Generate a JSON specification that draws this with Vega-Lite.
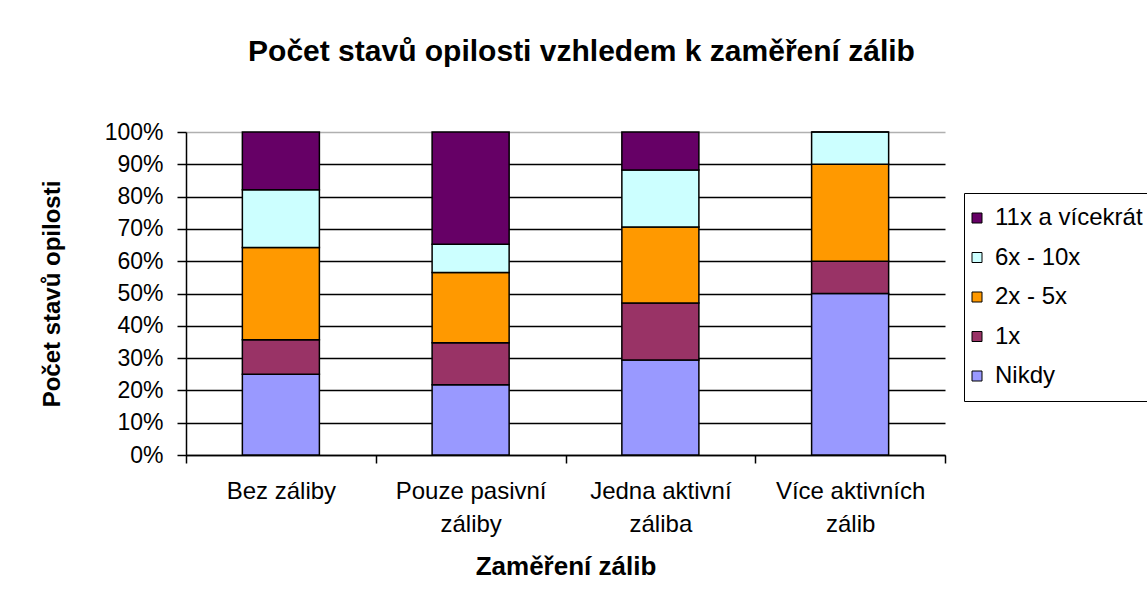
{
  "$schema": "https://vega.github.io/schema/vega-lite/v6.json",
  "width": 759,
  "height": 323,
  "autosize": {"type": "none"},
  "padding": {"left": 186, "top": 132, "right": 202, "bottom": 148},
  "background": "white",
  "config": {
    "font": "Liberation Sans",
    "view": {"stroke": null},
    "axis": {"labelColor": "black", "titleColor": "black", "domainColor": "black", "tickColor": "black"}
  },
  "title": {
    "text": "Počet stavů opilosti vzhledem k zaměření zálib",
    "fontSize": 30,
    "fontWeight": "bold",
    "font": "Liberation Sans",
    "color": "black",
    "anchor": "middle",
    "baseline": "alphabetic",
    "offset": 30,
    "dx": 16
  },
  "data": {
    "values": [
      {"zamereni": "Bez záliby", "cetnost": "Nikdy", "poradi": 1, "podil": 0.25},
      {"zamereni": "Bez záliby", "cetnost": "1x", "poradi": 2, "podil": 0.1071},
      {"zamereni": "Bez záliby", "cetnost": "2x  -  5x", "poradi": 3, "podil": 0.2857},
      {"zamereni": "Bez záliby", "cetnost": "6x  -  10x", "poradi": 4, "podil": 0.1786},
      {"zamereni": "Bez záliby", "cetnost": "11x a vícekrát", "poradi": 5, "podil": 0.1786},
      {"zamereni": "Pouze pasivní záliby", "cetnost": "Nikdy", "poradi": 1, "podil": 0.2174},
      {"zamereni": "Pouze pasivní záliby", "cetnost": "1x", "poradi": 2, "podil": 0.1304},
      {"zamereni": "Pouze pasivní záliby", "cetnost": "2x  -  5x", "poradi": 3, "podil": 0.2174},
      {"zamereni": "Pouze pasivní záliby", "cetnost": "6x  -  10x", "poradi": 4, "podil": 0.087},
      {"zamereni": "Pouze pasivní záliby", "cetnost": "11x a vícekrát", "poradi": 5, "podil": 0.3478},
      {"zamereni": "Jedna aktivní záliba", "cetnost": "Nikdy", "poradi": 1, "podil": 0.2941},
      {"zamereni": "Jedna aktivní záliba", "cetnost": "1x", "poradi": 2, "podil": 0.1765},
      {"zamereni": "Jedna aktivní záliba", "cetnost": "2x  -  5x", "poradi": 3, "podil": 0.2353},
      {"zamereni": "Jedna aktivní záliba", "cetnost": "6x  -  10x", "poradi": 4, "podil": 0.1765},
      {"zamereni": "Jedna aktivní záliba", "cetnost": "11x a vícekrát", "poradi": 5, "podil": 0.1176},
      {"zamereni": "Více aktivních zálib", "cetnost": "Nikdy", "poradi": 1, "podil": 0.5},
      {"zamereni": "Více aktivních zálib", "cetnost": "1x", "poradi": 2, "podil": 0.1},
      {"zamereni": "Více aktivních zálib", "cetnost": "2x  -  5x", "poradi": 3, "podil": 0.3},
      {"zamereni": "Více aktivních zálib", "cetnost": "6x  -  10x", "poradi": 4, "podil": 0.1},
      {"zamereni": "Více aktivních zálib", "cetnost": "11x a vícekrát", "poradi": 5, "podil": 0}
    ]
  },
  "mark": {"type": "bar", "stroke": "black", "strokeWidth": 1.5, "width": {"band": 0.406}},
  "encoding": {
    "x": {
      "field": "zamereni",
      "type": "nominal",
      "sort": null,
      "scale": {"paddingInner": 0, "paddingOuter": 0},
      "axis": {
        "title": "Zaměření zálib",
        "titleFontSize": 26,
        "titleFontWeight": "bold",
        "titlePadding": 17,
        "labelAngle": 0,
        "labelFontSize": 24,
        "labelPadding": 16,
        "labelLineHeight": 33,
        "labelLimit": 0,
        "labelExpr": "datum.label == 'Pouze pasivní záliby' ? ['Pouze pasivní', 'záliby'] : datum.label == 'Jedna aktivní záliba' ? ['Jedna aktivní', 'záliba'] : datum.label == 'Více aktivních zálib' ? ['Více aktivních', 'zálib'] : datum.label",
        "tickBand": "extent",
        "tickSize": 8,
        "domainWidth": 1.5,
        "tickWidth": 1.5
      }
    },
    "y": {
      "field": "podil",
      "type": "quantitative",
      "stack": "zero",
      "scale": {"domain": [0, 1], "nice": false},
      "axis": {
        "title": "Počet stavů opilosti",
        "titleFontSize": 24,
        "titleFontWeight": "bold",
        "titlePadding": 40,
        "format": ".0%",
        "values": [0, 0.1, 0.2, 0.3, 0.4, 0.5, 0.6, 0.7, 0.8, 0.9, 1],
        "labelFontSize": 23,
        "labelPadding": 14,
        "tickSize": 9,
        "tickWidth": 1.5,
        "domainWidth": 1.5,
        "grid": true,
        "gridColor": {"condition": {"test": "datum.value == 1", "value": "#b0b0b0"}, "value": "black"},
        "gridWidth": 1.3
      }
    },
    "color": {
      "field": "cetnost",
      "type": "nominal",
      "scale": {
        "domain": ["11x a vícekrát", "6x  -  10x", "2x  -  5x", "1x", "Nikdy"],
        "range": ["#660066", "#CCFFFF", "#FF9900", "#993366", "#9999FF"]
      },
      "legend": {
        "title": null,
        "orient": "none",
        "legendX": 778,
        "legendY": 61,
        "padding": 13,
        "strokeColor": "black",
        "fillColor": "white",
        "symbolType": "square",
        "symbolSize": 100,
        "symbolStrokeColor": "black",
        "symbolStrokeWidth": 1,
        "symbolOpacity": 1,
        "symbolOffset": -12,
        "labelFontSize": 24,
        "labelColor": "black",
        "labelOffset": 6,
        "labelLimit": 0,
        "rowPadding": 15.5
      }
    },
    "order": {"field": "poradi", "type": "quantitative"}
  }
}
